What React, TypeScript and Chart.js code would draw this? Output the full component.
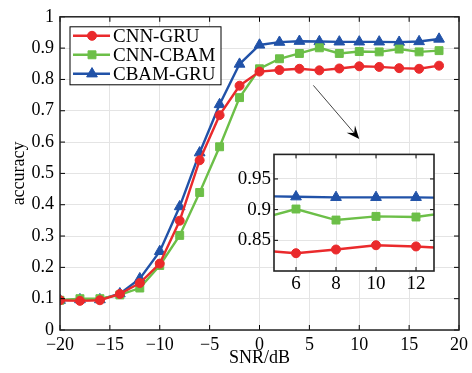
import React, { useEffect, useRef } from 'react';
import { Chart, registerables } from 'chart.js';
import { drawPoint } from 'chart.js/helpers';

Chart.register(...registerables);

// ---- data ----
const snr = [-20, -18, -16, -14, -12, -10, -8, -6, -4, -2, 0, 2, 4, 6, 8, 10, 12, 14, 16, 18];
const cnnGru = [0.095, 0.093, 0.095, 0.115, 0.15, 0.212, 0.349, 0.542, 0.686, 0.78, 0.825, 0.83, 0.834, 0.829, 0.835, 0.842, 0.84, 0.836, 0.834, 0.844];
const cnnCbam = [0.095, 0.1, 0.1, 0.112, 0.134, 0.206, 0.302, 0.439, 0.585, 0.742, 0.834, 0.866, 0.883, 0.901, 0.883, 0.889, 0.888, 0.897, 0.888, 0.892];
const cbamGru = [0.095, 0.097, 0.097, 0.116, 0.164, 0.251, 0.394, 0.566, 0.72, 0.849, 0.91, 0.919, 0.922, 0.921, 0.92, 0.92, 0.92, 0.919, 0.921, 0.929];
const seriesNames = ['CNN-GRU', 'CNN-CBAM', 'CBAM-GRU'];
const insetXTicks = [6, 8, 10, 12];
const insetYTicks = [0.85, 0.9, 0.95];
const arrowFrom = { x: 5.4, y: 0.781 };
const arrowTo = { x: 10.0, y: 0.61 };

const COLORS = ['#ea2a2c', '#6cbf48', '#2152a8'];
const STYLES: any[] = ['circle', 'rect', 'triangle'];
const RADII = [4.5, 5.6, 6.2];
const FONT = "'Liberation Serif', 'Times New Roman', serif";

const fmtX = (v: number) => (v < 0 ? '\u2212' + Math.abs(v) : String(v));
const fmtY = (v: number) => String(Number(v.toFixed(2)));

function makeDatasets() {
  const all = [cnnGru, cnnCbam, cbamGru];
  return all.map((arr, i) => ({
    label: seriesNames[i],
    data: snr.map((x, j) => ({ x, y: arr[j] })),
    borderColor: COLORS[i],
    backgroundColor: COLORS[i],
    borderWidth: 2.4,
    pointStyle: STYLES[i],
    pointRadius: RADII[i],
    pointBorderWidth: 1,
    pointBorderColor: COLORS[i],
    pointBackgroundColor: COLORS[i],
    tension: 0,
  }));
}

function drawFrame(chart: any, tickLen: number, lw: number) {
  const { ctx, chartArea: a, scales } = chart;
  ctx.save();
  ctx.strokeStyle = '#000';
  ctx.lineWidth = 1;
  ctx.beginPath();
  scales.x.ticks.forEach((t: any) => {
    const px = scales.x.getPixelForValue(t.value);
    ctx.moveTo(px, a.bottom);
    ctx.lineTo(px, a.bottom - tickLen);
    ctx.moveTo(px, a.top);
    ctx.lineTo(px, a.top + tickLen);
  });
  scales.y.ticks.forEach((t: any) => {
    const py = scales.y.getPixelForValue(t.value);
    ctx.moveTo(a.left, py);
    ctx.lineTo(a.left + tickLen, py);
    ctx.moveTo(a.right, py);
    ctx.lineTo(a.right - tickLen, py);
  });
  ctx.stroke();
  ctx.lineWidth = lw;
  ctx.strokeStyle = '#222';
  ctx.strokeRect(a.left, a.top, a.right - a.left, a.bottom - a.top);
  ctx.restore();
}

const mainDecor = {
  id: 'mainDecor',
  afterDraw(chart: any) {
    drawFrame(chart, 5, 1.5);
    const { ctx, chartArea: a, scales } = chart;
    // legend
    ctx.save();
    const x0 = a.left + 10;
    const y0 = a.top + 10;
    const w = 151;
    const h = 58;
    ctx.fillStyle = '#fff';
    ctx.fillRect(x0, y0, w, h);
    ctx.strokeStyle = '#000';
    ctx.lineWidth = 1;
    ctx.strokeRect(x0, y0, w, h);
    ctx.font = `19px ${FONT}`;
    ctx.textBaseline = 'middle';
    ctx.textAlign = 'left';
    seriesNames.forEach((name, i) => {
      const cy = y0 + 9 + i * 19;
      ctx.strokeStyle = COLORS[i];
      ctx.lineWidth = 2.4;
      ctx.beginPath();
      ctx.moveTo(x0 + 3, cy);
      ctx.lineTo(x0 + 40, cy);
      ctx.stroke();
      ctx.fillStyle = COLORS[i];
      ctx.strokeStyle = COLORS[i];
      ctx.lineWidth = 1;
      drawPoint(ctx, { pointStyle: STYLES[i], radius: RADII[i], rotation: 0, borderWidth: 1 } as any, x0 + 22, cy);
      ctx.fillStyle = '#000';
      ctx.fillText(name, x0 + 43, cy + 1);
    });
    // arrow
    const sx = scales.x.getPixelForValue(arrowFrom.x);
    const sy = scales.y.getPixelForValue(arrowFrom.y);
    const ex = scales.x.getPixelForValue(arrowTo.x);
    const ey = scales.y.getPixelForValue(arrowTo.y);
    const ang = Math.atan2(ey - sy, ex - sx);
    const hl = 13;
    const hw = 5.5;
    ctx.strokeStyle = '#444';
    ctx.lineWidth = 1;
    ctx.beginPath();
    ctx.moveTo(sx, sy);
    ctx.lineTo(ex - Math.cos(ang) * 7, ey - Math.sin(ang) * 7);
    ctx.stroke();
    ctx.fillStyle = '#000';
    ctx.translate(ex, ey);
    ctx.rotate(ang);
    ctx.beginPath();
    ctx.moveTo(0, 0);
    ctx.lineTo(-hl, -hw);
    ctx.lineTo(-hl * 0.6, 0);
    ctx.lineTo(-hl, hw);
    ctx.closePath();
    ctx.fill();
    ctx.restore();
  },
};

const insetDecor = {
  id: 'insetDecor',
  beforeDraw(chart: any) {
    const { ctx, chartArea: a } = chart;
    ctx.save();
    ctx.fillStyle = '#fff';
    ctx.fillRect(a.left, a.top, a.right - a.left, a.bottom - a.top);
    ctx.restore();
  },
  afterDraw(chart: any) {
    drawFrame(chart, 4, 1.6);
  },
};

const tickFont = { family: FONT, size: 18 };

export default function App() {
  const mainRef = useRef<HTMLCanvasElement>(null);
  const insetRef = useRef<HTMLCanvasElement>(null);

  useEffect(() => {
    const main = new Chart(mainRef.current as HTMLCanvasElement, {
      type: 'line',
      data: { datasets: makeDatasets() as any },
      plugins: [mainDecor],
      options: {
        responsive: false,
        animation: false,
        layout: { padding: { left: 0, right: 12, top: 15, bottom: 0 } },
        plugins: { legend: { display: false }, tooltip: { enabled: false } },
        scales: {
          x: {
            type: 'linear',
            min: -20,
            max: 20,
            ticks: { stepSize: 5, callback: (v: any) => fmtX(Number(v)), font: tickFont, color: '#000', padding: 4, maxRotation: 0 },
            grid: { color: '#e4e4e4', drawTicks: false },
            border: { display: false },
            title: { display: true, text: 'SNR/dB', font: { family: FONT, size: 18 }, color: '#000', padding: { top: 0, bottom: 4 } },
            afterFit: (s: any) => { s.height = 43; },
          },
          y: {
            type: 'linear',
            min: 0,
            max: 1,
            ticks: { stepSize: 0.1, callback: (v: any) => fmtY(Number(v)), font: tickFont, color: '#000', padding: 6 },
            grid: { color: '#e4e4e4', drawTicks: false },
            border: { display: false },
            title: { display: true, text: 'accuracy', font: { family: FONT, size: 18 }, color: '#000', padding: { top: 8, bottom: 0 } },
            afterFit: (s: any) => { s.width = 60; },
          },
        },
      } as any,
    });

    const inset = new Chart(insetRef.current as HTMLCanvasElement, {
      type: 'line',
      data: { datasets: makeDatasets() as any },
      plugins: [insetDecor],
      options: {
        responsive: false,
        animation: false,
        layout: { padding: { left: 0, right: 11, top: 11, bottom: 0 } },
        plugins: { legend: { display: false }, tooltip: { enabled: false } },
        scales: {
          x: {
            type: 'linear',
            min: 4.9,
            max: 12.9,
            afterBuildTicks: (s: any) => { s.ticks = insetXTicks.map((v) => ({ value: v })); },
            ticks: { callback: (v: any) => fmtX(Number(v)), font: { family: FONT, size: 19 }, color: '#000', padding: 2, maxRotation: 0, autoSkip: false },
            grid: { color: '#e4e4e4', drawTicks: false },
            border: { display: false },
            afterFit: (s: any) => { s.height = 29; },
          },
          y: {
            type: 'linear',
            min: 0.8,
            max: 0.99,
            afterBuildTicks: (s: any) => { s.ticks = insetYTicks.map((v) => ({ value: v })); },
            ticks: { callback: (v: any) => fmtY(Number(v)), font: { family: FONT, size: 19 }, color: '#000', padding: 3, autoSkip: false },
            grid: { color: '#e4e4e4', drawTicks: false },
            border: { display: false },
            afterFit: (s: any) => { s.width = 44; },
          },
        },
      } as any,
    });

    return () => {
      main.destroy();
      inset.destroy();
    };
  }, []);

  return (
    <div style={{ position: 'absolute', left: 0, top: 0, width: 472, height: 373, background: '#fff' }}>
      <canvas ref={mainRef} width={472} height={373} style={{ position: 'absolute', left: 0, top: 0, width: 472, height: 373 }} />
      <canvas ref={insetRef} width={215} height={160} style={{ position: 'absolute', left: 230, top: 140, width: 215, height: 160 }} />
    </div>
  );
}
